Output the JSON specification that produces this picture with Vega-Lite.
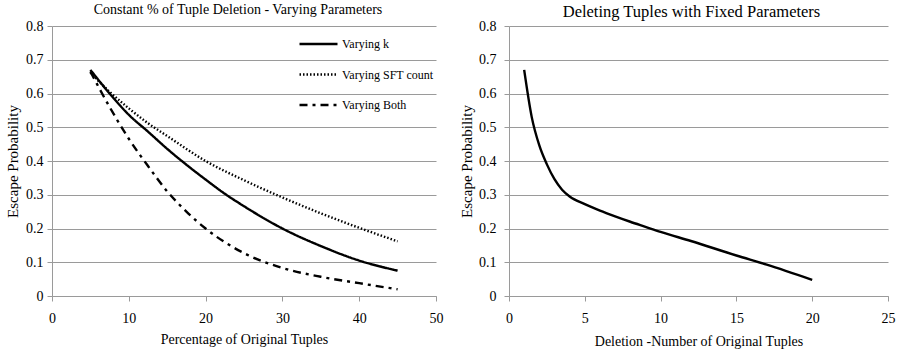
{
  "$schema": "https://vega.github.io/schema/vega-lite/v6.json",
  "padding": {"left": 5, "top": 3, "right": 2, "bottom": 2},
  "spacing": 16,
  "config": {
    "font": "Liberation Serif",
    "view": {"stroke": null},
    "style": {
      "guide-label": {"font": "Liberation Serif", "fill": "#000"},
      "guide-title": {"font": "Liberation Serif", "fill": "#000"},
      "group-title": {"font": "Liberation Serif", "fill": "#000"}
    },
    "axis": {
      "labelFont": "Liberation Serif", "titleFont": "Liberation Serif",
      "labelFontSize": 14, "titleFontSize": 14, "titleFontWeight": "normal",
      "labelColor": "#000", "titleColor": "#000",
      "domainColor": "#9a9a9a", "tickColor": "#9a9a9a", "gridColor": "#9a9a9a",
      "tickSize": 5, "labelFlush": false
    },
    "legend": {"labelFont": "Liberation Serif", "labelColor": "#000"},
    "title": {"font": "Liberation Serif", "fontWeight": "normal", "color": "#000"}
  },
  "datasets": {
    "left": [
      {"pct": 5, "p": 0.67, "series": "Varying k"},
      {"pct": 7.5, "p": 0.6, "series": "Varying k"},
      {"pct": 10, "p": 0.537, "series": "Varying k"},
      {"pct": 12.5, "p": 0.487, "series": "Varying k"},
      {"pct": 15, "p": 0.436, "series": "Varying k"},
      {"pct": 17.5, "p": 0.389, "series": "Varying k"},
      {"pct": 20, "p": 0.345, "series": "Varying k"},
      {"pct": 22.5, "p": 0.303, "series": "Varying k"},
      {"pct": 25, "p": 0.266, "series": "Varying k"},
      {"pct": 30, "p": 0.2, "series": "Varying k"},
      {"pct": 35, "p": 0.148, "series": "Varying k"},
      {"pct": 40, "p": 0.105, "series": "Varying k"},
      {"pct": 45, "p": 0.075, "series": "Varying k"},
      {"pct": 5, "p": 0.662, "series": "Varying SFT count"},
      {"pct": 7.5, "p": 0.605, "series": "Varying SFT count"},
      {"pct": 10, "p": 0.556, "series": "Varying SFT count"},
      {"pct": 12.5, "p": 0.512, "series": "Varying SFT count"},
      {"pct": 15, "p": 0.474, "series": "Varying SFT count"},
      {"pct": 20, "p": 0.4, "series": "Varying SFT count"},
      {"pct": 25, "p": 0.343, "series": "Varying SFT count"},
      {"pct": 30, "p": 0.292, "series": "Varying SFT count"},
      {"pct": 35, "p": 0.245, "series": "Varying SFT count"},
      {"pct": 40, "p": 0.202, "series": "Varying SFT count"},
      {"pct": 45, "p": 0.162, "series": "Varying SFT count"},
      {"pct": 5, "p": 0.665, "series": "Varying Both"},
      {"pct": 7.5, "p": 0.56, "series": "Varying Both"},
      {"pct": 10, "p": 0.466, "series": "Varying Both"},
      {"pct": 12.5, "p": 0.385, "series": "Varying Both"},
      {"pct": 15, "p": 0.31, "series": "Varying Both"},
      {"pct": 17.5, "p": 0.25, "series": "Varying Both"},
      {"pct": 20, "p": 0.2, "series": "Varying Both"},
      {"pct": 25, "p": 0.127, "series": "Varying Both"},
      {"pct": 30, "p": 0.083, "series": "Varying Both"},
      {"pct": 35, "p": 0.057, "series": "Varying Both"},
      {"pct": 40, "p": 0.038, "series": "Varying Both"},
      {"pct": 45, "p": 0.02, "series": "Varying Both"}
    ],
    "right": [
      {"n": 1, "p": 0.67},
      {"n": 1.5, "p": 0.53},
      {"n": 2, "p": 0.446},
      {"n": 2.5, "p": 0.39},
      {"n": 3, "p": 0.346},
      {"n": 3.5, "p": 0.315},
      {"n": 4, "p": 0.295},
      {"n": 5, "p": 0.272},
      {"n": 6, "p": 0.253},
      {"n": 7, "p": 0.236},
      {"n": 8, "p": 0.22},
      {"n": 9, "p": 0.205},
      {"n": 10, "p": 0.19},
      {"n": 12, "p": 0.163},
      {"n": 15, "p": 0.12},
      {"n": 17, "p": 0.093},
      {"n": 20, "p": 0.048}
    ]
  },
  "hconcat": [
    {
      "width": 384,
      "height": 270,
      "title": {"text": "Constant % of Tuple Deletion - Varying Parameters", "fontSize": 14, "offset": 2, "dx": -6},
      "data": {"name": "left"},
      "mark": {"type": "line", "color": "#000", "strokeWidth": 2.4, "interpolate": "monotone"},
      "encoding": {
        "x": {"field": "pct", "type": "quantitative", "title": "Percentage of Original Tuples",
              "scale": {"domain": [0, 50]},
              "axis": {"values": [0, 10, 20, 30, 40, 50], "grid": false, "labelFlush": false, "labelPadding": 10, "titlePadding": 7}},
        "y": {"field": "p", "type": "quantitative", "title": "Escape Probability",
              "scale": {"domain": [0, 0.8]},
              "axis": {"values": [0, 0.1, 0.2, 0.3, 0.4, 0.5, 0.6, 0.7, 0.8], "format": ".1~f", "labelPadding": 4, "titlePadding": 5, "titleFontSize": 15}},
        "strokeDash": {"field": "series", "type": "nominal",
          "scale": {"domain": ["Varying k", "Varying SFT count", "Varying Both"], "range": [[1, 0], [1.5, 2], [8, 5, 3, 5]]},
          "legend": {"title": null, "orient": "none", "legendX": 246, "legendY": 8,
                     "symbolType": "stroke", "symbolSize": 1444, "symbolStrokeWidth": 2.4, "symbolStrokeColor": "#000",
                     "labelFontSize": 12, "labelFont": "Liberation Serif", "labelColor": "#000",
                     "clipHeight": 20, "rowPadding": 10.5, "labelOffset": 3}}
      }
    },
    {
      "width": 379,
      "height": 270,
      "title": {"text": "Deleting Tuples with Fixed Parameters", "fontSize": 16.5, "offset": -1, "dx": -7},
      "data": {"name": "right"},
      "mark": {"type": "line", "color": "#000", "strokeWidth": 2.4, "interpolate": "monotone"},
      "encoding": {
        "x": {"field": "n", "type": "quantitative", "title": "Deletion -Number of Original Tuples",
              "scale": {"domain": [0, 25]},
              "axis": {"values": [0, 5, 10, 15, 20, 25], "grid": false, "labelFlush": false, "labelPadding": 10, "titlePadding": 9}},
        "y": {"field": "p", "type": "quantitative", "title": "Escape Probability",
              "scale": {"domain": [0, 0.8]},
              "axis": {"values": [0, 0.1, 0.2, 0.3, 0.4, 0.5, 0.6, 0.7, 0.8], "format": ".1~f", "labelPadding": 8, "titlePadding": 4, "titleFontSize": 15}}
      }
    }
  ]
}
